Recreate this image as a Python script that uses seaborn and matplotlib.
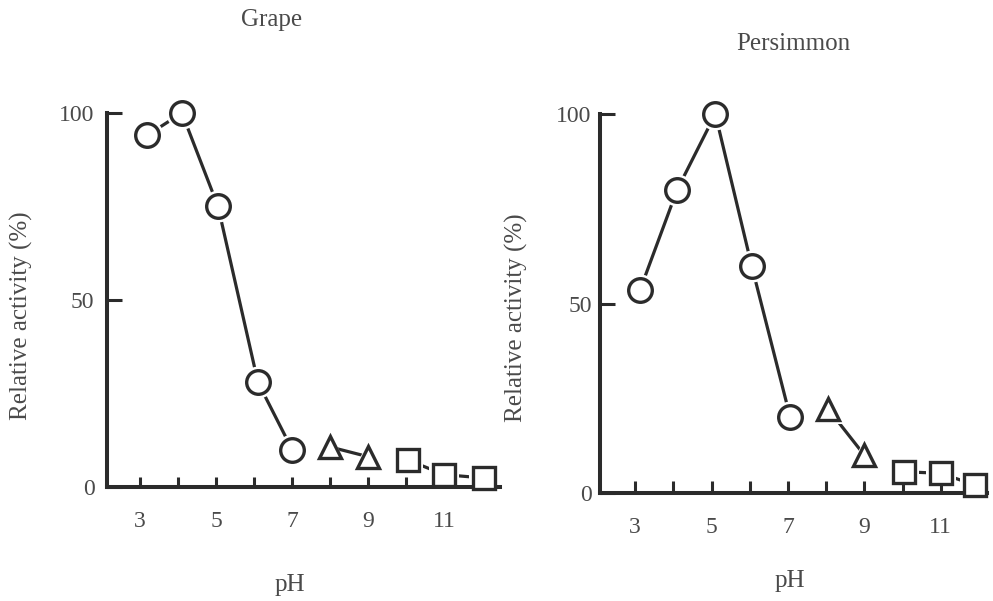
import matplotlib
matplotlib.use("Agg")
import matplotlib.pyplot as plt
import seaborn as sns
import pandas as pd

sns.set_theme(style="white")
plt.rcParams['font.family'] = ['Liberation Serif', 'DejaVu Serif']

# ---------------- data ----------------
panel_titles = ["Grape", "Persimmon"]
x_label = "pH"
y_label = "Relative activity (%)"

x_ticks = [3, 4, 5, 6, 7, 8, 9, 10, 11, 12]
x_tick_labels = ["3", "", "5", "", "7", "", "9", "", "11", ""]
y_ticks = [0, 50, 100]
y_tick_labels = ["0", "50", "100"]

# Grape
grape_circle_ph = [3.18, 4.1, 5.05, 6.1, 7.0]
grape_circle_act = [94, 100, 75, 28, 10]
grape_tri_ph = [8.0, 9.0]
grape_tri_act = [10.7, 8.1]
grape_sq_ph = [10.05, 11.0, 12.05]
grape_sq_act = [7.2, 3.3, 2.4]

# Persimmon
pers_circle_ph = [3.13, 4.1, 5.1, 6.05, 7.06]
pers_circle_act = [53.6, 80, 100, 60, 20]
pers_tri_ph = [8.05, 9.0]
pers_tri_act = [22.2, 10.0]
pers_sq_ph = [10.05, 11.0, 11.9]
pers_sq_act = [5.6, 5.2, 2.1]

INK = "#2b2b2b"
TEXT = "#4a4a4a"

fig = plt.figure(figsize=(9.93, 6.01), dpi=100)
ax1 = fig.add_axes([0.1078, 0.1897, 0.3958, 0.6223])
ax2 = fig.add_axes([0.6042, 0.1797, 0.3897, 0.6306])


def draw_group(ax, ph, act, marker, ms, connect=True):
    df = pd.DataFrame({"pH": ph, "act": act})
    if connect:
        sns.lineplot(data=df, x="pH", y="act", ax=ax, sort=False, estimator=None,
                     color=INK, lw=2.3, zorder=2.1, clip_on=False)
    # white halo that makes the small gap between line and marker
    sns.lineplot(data=df, x="pH", y="act", ax=ax, sort=False, estimator=None,
                 linestyle="none", marker=marker, markersize=ms + 6,
                 markerfacecolor="white", markeredgecolor="white",
                 markeredgewidth=0, color="white", zorder=2.2, clip_on=False)
    sns.lineplot(data=df, x="pH", y="act", ax=ax, sort=False, estimator=None,
                 linestyle="none", marker=marker, markersize=ms,
                 markerfacecolor="white", markeredgecolor=INK,
                 markeredgewidth=2.4, color=INK, zorder=4, clip_on=False)


def style_axis(ax, xlim, ticks):
    ax.set_xlim(*xlim)
    ax.set_ylim(0, 100)
    ax.set_axisbelow(False)
    for side in ["top", "right"]:
        ax.spines[side].set_visible(False)
    for side in ["left", "bottom"]:
        ax.spines[side].set_linewidth(2.9)
        ax.spines[side].set_color(INK)
        ax.spines[side].set_zorder(2.5)
    ax.set_xticks(ticks, x_tick_labels[:len(ticks)])
    ax.set_yticks(y_ticks, y_tick_labels)
    ax.tick_params(axis="x", which="both", bottom=True, top=False,
                   direction="in", length=7, width=2.2, color=INK,
                   pad=17, labelsize=17, labelcolor=TEXT)
    ax.tick_params(axis="y", which="both", left=True, right=False,
                   direction="in", length=11, width=2.2, color=INK,
                   pad=6, labelsize=17, labelcolor=TEXT)
    ax.set_xlabel("")
    ax.set_ylabel("")
    ax.grid(False)


draw_group(ax1, grape_circle_ph, grape_circle_act, "o", 17)
draw_group(ax1, grape_tri_ph, grape_tri_act, "^", 16)
draw_group(ax1, grape_sq_ph, grape_sq_act, "s", 16)
style_axis(ax1, (2.13, 12.47), x_ticks)
ax1.tick_params(axis="y", pad=9)

draw_group(ax2, pers_circle_ph, pers_circle_act, "o", 17)
draw_group(ax2, pers_tri_ph, pers_tri_act, "^", 16)
draw_group(ax2, pers_sq_ph, pers_sq_act, "s", 16)
style_axis(ax2, (2.08, 12.21), x_ticks[:9])
ax2.tick_params(axis="x", length=9)

# texts (titles, axis labels) placed in figure pixels
W, H = 993, 601
def ftext(x, y, s, **kw):
    fig.text(x / W, 1 - y / H, s, ha="center", va="center", color=TEXT,
             fontsize=18, **kw)

ftext(272, 20, panel_titles[0])
ftext(793, 44, panel_titles[1])
ftext(290, 585, x_label)
ftext(790, 581, x_label)
ftext(21, 316, y_label, rotation=90)
ftext(516, 318, y_label, rotation=90)

fig.savefig("out.png", dpi=100, facecolor="white")
